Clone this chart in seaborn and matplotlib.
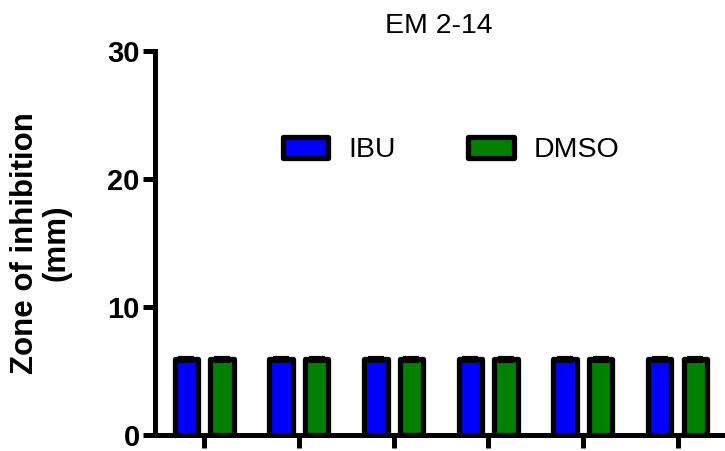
import matplotlib
matplotlib.use("Agg")
import matplotlib.pyplot as plt
import seaborn as sns
import pandas as pd

# Zone of inhibition for each sample group, IBU vs. DMSO control
groups = ["1", "2", "3", "4", "5", "6"]
ibu_mm = [5.9, 5.9, 5.9, 5.9, 5.9, 5.9]
dmso_mm = [5.9, 5.9, 5.9, 5.9, 5.9, 5.9]
sem_mm = [0.15, 0.15, 0.15, 0.15, 0.15, 0.15]
treatments = ["IBU", "DMSO"]
y_ticks = [0, 10, 20, 30]

df = pd.DataFrame({
    "group": groups * 2,
    "treatment": ["IBU"] * len(groups) + ["DMSO"] * len(groups),
    "value": ibu_mm + dmso_mm,
})

sns.set_style("white")
plt.rcParams["font.family"] = ["Liberation Sans", "DejaVu Sans"]
plt.rcParams["text.color"] = "black"
plt.rcParams["axes.labelcolor"] = "black"
plt.rcParams["xtick.color"] = "black"
plt.rcParams["ytick.color"] = "black"

fig = plt.figure(figsize=(7.25, 4.51), dpi=100)
ax = fig.add_axes([155 / 725, 1 - 435 / 451, (722 - 155) / 725, (435 - 51) / 451])

palette = {"IBU": "#0000ff", "DMSO": "#008000"}
sns.barplot(data=df, x="group", y="value", hue="treatment", hue_order=treatments,
            palette=palette, edgecolor="black", linewidth=3.8, width=0.75, gap=0.34,
            errorbar=None, saturation=1, ax=ax, zorder=3)

for p in ax.patches:
    p.set_joinstyle("round")

# error caps on top of each bar
errs = sem_mm + sem_mm
for p, e in zip(ax.patches[:len(errs)], errs):
    cx = p.get_x() + p.get_width() / 2
    ax.errorbar(cx, p.get_height(), yerr=e, color="black", capsize=6,
                capthick=3, elinewidth=3, zorder=4)

ax.set_ylim(0, 30)
ax.set_xlim(-0.52, 5.47)
ax.set_yticks(y_ticks)
ax.set_yticklabels([str(t) for t in y_ticks], fontsize=21, fontweight="bold")
ax.set_xticks(range(len(groups)))
ax.set_xticklabels([""] * len(groups))
ax.set_xlabel("")
ax.set_ylabel("Zone of inhibition\n(mm)", fontsize=22.5, fontweight="bold", labelpad=26,
              linespacing=1.05)
ax.set_title("EM 2-14", fontsize=20.5, pad=13)

for side in ["top", "right"]:
    ax.spines[side].set_visible(False)
for side in ["left", "bottom"]:
    ax.spines[side].set_linewidth(3.6)
    ax.spines[side].set_color("black")
ax.tick_params(axis="both", which="both", direction="out", length=9, width=3.6,
               color="black", pad=2, left=True, bottom=True)

leg = ax.legend(ncol=2, frameon=False, fontsize=20.5, loc="center left",
                bbox_to_anchor=(0.2, 0.742), handlelength=1.6, handleheight=0.8,
                handletextpad=0.7, columnspacing=2.55, borderpad=0)
for h in leg.legend_handles:
    h.set_joinstyle("round")
    h.set_linewidth(3.8)

fig.savefig("out.png", dpi=100)
